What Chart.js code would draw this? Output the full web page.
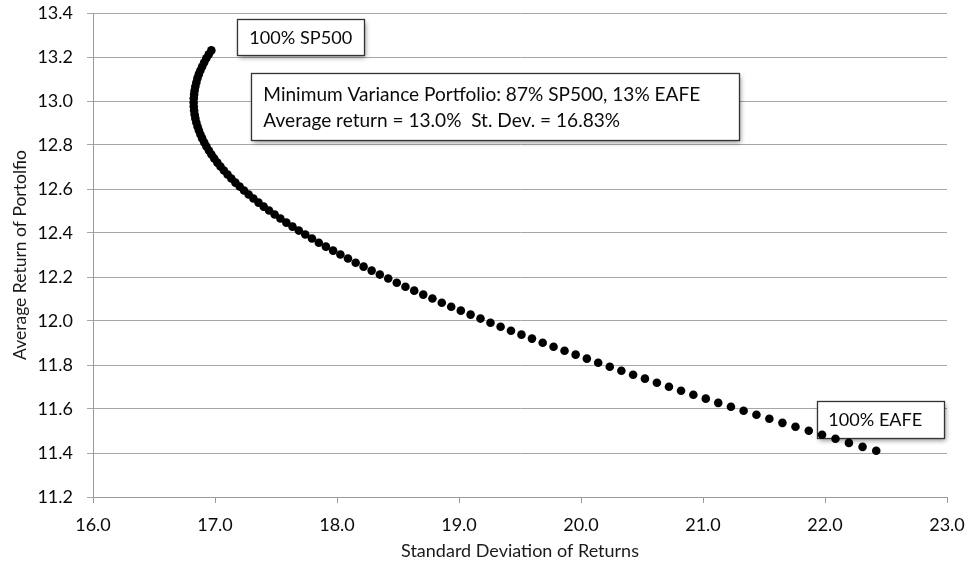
<!DOCTYPE html>
<html><head><meta charset="utf-8">
<script src="https://cdn.jsdelivr.net/npm/chart.js@4.4.0/dist/chart.umd.min.js"></script>
<style>html,body{margin:0;padding:0;background:#fff;}canvas{display:block;}</style>
</head><body>
<canvas id="c" width="975" height="569"></canvas>
<script>
// Portfolio standard deviation (x) and average return (y), 100% EAFE -> 100% SP500
const stdDev = [
 22.42, 22.308, 22.196, 22.086, 21.976, 21.867, 21.758, 21.651, 21.544, 21.438,
 21.333, 21.229, 21.125, 21.023, 20.921, 20.82, 20.721, 20.622, 20.524, 20.427,
 20.331, 20.236, 20.141, 20.048, 19.956, 19.865, 19.775, 19.686, 19.598, 19.512,
 19.426, 19.341, 19.258, 19.176, 19.095, 19.015, 18.936, 18.859, 18.782, 18.707,
 18.633, 18.561, 18.49, 18.42, 18.351, 18.284, 18.218, 18.153, 18.09, 18.028,
 17.968, 17.909, 17.851, 17.795, 17.74, 17.687, 17.635, 17.585, 17.536, 17.489,
 17.443, 17.399, 17.357, 17.315, 17.276, 17.238, 17.202, 17.167, 17.134, 17.103,
 17.073, 17.045, 17.019, 16.994, 16.971, 16.95, 16.93, 16.912, 16.895, 16.881,
 16.868, 16.857, 16.847, 16.839, 16.833, 16.829, 16.826, 16.825, 16.826, 16.829,
 16.833, 16.839, 16.847, 16.856, 16.867, 16.88, 16.895, 16.911, 16.929, 16.949,
 16.97
];
const avgReturn = [
 11.410, 11.428, 11.446, 11.465, 11.483, 11.501, 11.519, 11.537, 11.556, 11.574,
 11.592, 11.610, 11.628, 11.647, 11.665, 11.683, 11.701, 11.719, 11.738, 11.756,
 11.774, 11.792, 11.810, 11.829, 11.847, 11.865, 11.883, 11.901, 11.920, 11.938,
 11.956, 11.974, 11.992, 12.011, 12.029, 12.047, 12.065, 12.083, 12.102, 12.120,
 12.138, 12.156, 12.174, 12.193, 12.211, 12.229, 12.247, 12.265, 12.284, 12.302,
 12.320, 12.338, 12.356, 12.375, 12.393, 12.411, 12.429, 12.447, 12.466, 12.484,
 12.502, 12.520, 12.538, 12.557, 12.575, 12.593, 12.611, 12.629, 12.648, 12.666,
 12.684, 12.702, 12.720, 12.739, 12.757, 12.775, 12.793, 12.811, 12.830, 12.848,
 12.866, 12.884, 12.902, 12.921, 12.939, 12.957, 12.975, 12.993, 13.012, 13.030,
 13.048, 13.066, 13.084, 13.103, 13.121, 13.139, 13.157, 13.175, 13.194, 13.212,
 13.230
];
const xAxisTitle = 'Standard Deviation of Returns';
const yAxisTitle = 'Average Return of Portolfio';
const xRange = [16, 23];
const yRange = [11.2, 13.4];
const noteSP500 = ['100% SP500'];
const noteMinVar = ['Minimum Variance Portfolio: 87% SP500, 13% EAFE', 'Average return = 13.0%  St. Dev. = 16.83%'];
const noteEAFE = ['100% EAFE'];

const FONT = 'Lato, "Open Sans", sans-serif';
const points = stdDev.map((s, i) => ({x: s, y: avgReturn[i]}));

// annotation boxes placed in data coordinates
const notes = [
  {lines: noteSP500, x1: 17.183, x2: 18.224, y1: 13.371, y2: 13.207, textW: 103, inset: 12, gap: 0},
  {lines: noteMinVar, x1: 17.298, x2: 21.298, y1: 13.126, y2: 12.821, textW: 437, inset: 12, gap: 26},
  {lines: noteEAFE, x1: 21.937, x2: 22.978, y1: 11.635, y2: 11.467, textW: 94, inset: 11, gap: 0}
];

const notePlugin = {
  id: 'notes',
  beforeDatasetsDraw(chart) {
    const ctx = chart.ctx, xs = chart.scales.x, ys = chart.scales.y;
    notes.forEach(n => {
      const l = xs.getPixelForValue(n.x1), r = xs.getPixelForValue(n.x2);
      const t = ys.getPixelForValue(n.y1), b = ys.getPixelForValue(n.y2);
      ctx.save();
      ctx.shadowColor = 'rgba(0,0,0,0.45)';
      ctx.shadowBlur = 5; ctx.shadowOffsetX = 2; ctx.shadowOffsetY = 3;
      ctx.fillStyle = '#fff';
      ctx.fillRect(l, t, r - l, b - t);
      ctx.restore();
      ctx.save();
      ctx.strokeStyle = '#333'; ctx.lineWidth = 1.3;
      ctx.strokeRect(Math.round(l) + 0.5, Math.round(t) + 0.5, Math.round(r - l), Math.round(b - t));
      ctx.font = '100px ' + FONT;
      const size = 100 * n.textW / ctx.measureText(n.lines[0]).width;
      ctx.font = size.toFixed(2) + 'px ' + FONT;
      ctx.fillStyle = '#0a0a0a';
      ctx.textBaseline = 'alphabetic';
      ctx.textAlign = 'left';
      const cy = (t + b) / 2;
      const capH = size * 0.7165;
      const n0 = n.lines.length;
      n.lines.forEach((line, i) => {
        const y = cy + (i - (n0 - 1) / 2) * n.gap + capH / 2;
        ctx.fillText(line, l + n.inset, y);
      });
      ctx.restore();
    });
  }
};

new Chart(document.getElementById('c'), {
  type: 'scatter',
  data: {
    datasets: [{
      data: points,
      pointRadius: 4.3,
      pointHoverRadius: 4.3,
      pointBackgroundColor: '#000',
      pointBorderWidth: 0,
      showLine: false
    }]
  },
  options: {
    responsive: false,
    animation: false,
    devicePixelRatio: 1,
    layout: {padding: {top: 13, right: 28, bottom: 0, left: 0}},
    plugins: {legend: {display: false}, tooltip: {enabled: false}},
    scales: {
      x: {
        type: 'linear', min: xRange[0], max: xRange[1],
        afterFit(s) { s.height = 72; s.paddingLeft = 0; s.paddingRight = 0; },
        ticks: {stepSize: 1, color: '#0a0a0a', padding: 11, font: {family: FONT, size: 18},
          callback: v => Number(v).toFixed(1)},
        grid: {display: true, drawOnChartArea: false, drawTicks: true, tickLength: 6, color: '#9a9a9a', lineWidth: 1},
        border: {display: true, color: '#9a9a9a', width: 1},
        title: {display: true, text: xAxisTitle, color: '#1a1a1a', font: {family: FONT, size: 18}, padding: {top: 4, bottom: 7}}
      },
      y: {
        type: 'linear', min: yRange[0], max: yRange[1],
        afterFit(s) { s.width = 93; s.paddingTop = 0; s.paddingBottom = 0; },
        ticks: {stepSize: 0.2, color: '#0a0a0a', padding: 14, font: {family: FONT, size: 18},
          callback: v => Number(v).toFixed(1)},
        grid: {display: true, drawOnChartArea: true, drawTicks: true, tickLength: 6, color: '#a6a6a6', lineWidth: 1},
        border: {display: true, color: '#9a9a9a', width: 1},
        title: {display: true, text: yAxisTitle, color: '#1a1a1a', font: {family: FONT, size: 17.5}, padding: {top: 10, bottom: 4}}
      }
    }
  },
  plugins: [notePlugin]
});
</script>
</body></html>
